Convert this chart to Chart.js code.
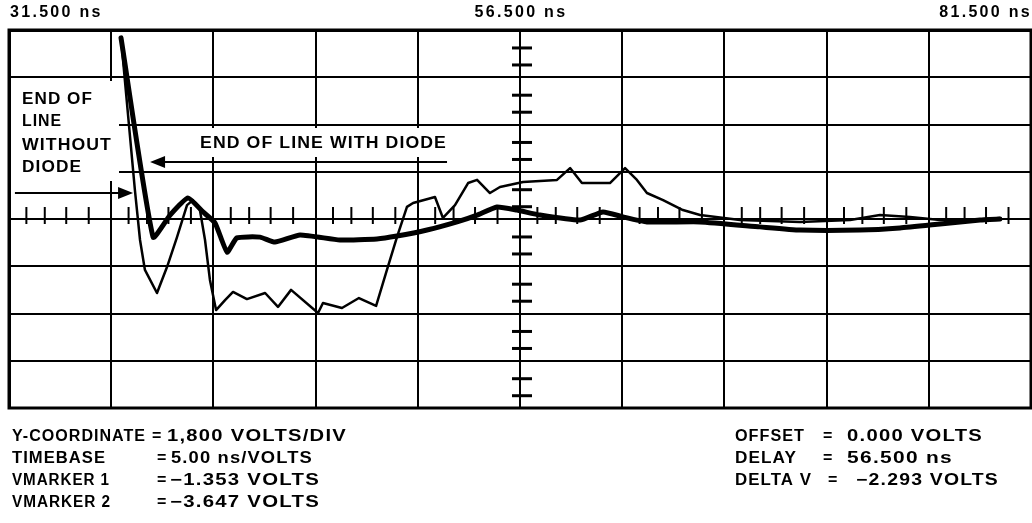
<!DOCTYPE html>
<html><head><meta charset="utf-8">
<script src="https://cdn.jsdelivr.net/npm/chart.js@4/dist/chart.umd.min.js"></script>
<style>html,body{margin:0;padding:0;background:#fff}canvas{display:block}</style>
</head><body>
<canvas id="c" width="1032" height="523"></canvas>
<script>
// ---- tick labels (time axis, ns) ----
const xTickValues = [31.5, 56.5, 81.5];
const xTickLabels = ['31.500 ns', '56.500 ns', '81.500 ns'];

// ---- trace: end of line WITH diode (heavy trace), time in ns, volts ----
const withDiodeT = [36.98, 38.55, 39.38, 40.26, 40.99, 41.58, 42.17, 42.65, 43.78, 44.51, 45.74, 47.69, 49.50, 50.48, 51.95, 53.42, 54.40, 55.37, 56.35, 57.48, 59.44, 60.56, 61.54, 62.71, 65.31, 68.24, 70.20, 73.13, 75.09, 77.05, 79.01, 79.98];
const withDiodeV = [6.90, -0.69, 0.15, 0.80, 0.27, -0.15, -1.26, -0.72, -0.69, -0.88, -0.61, -0.80, -0.76, -0.65, -0.42, -0.11, 0.15, 0.46, 0.34, 0.15, -0.04, 0.27, 0.08, -0.11, -0.11, -0.30, -0.42, -0.42, -0.34, -0.19, -0.04, 0.00];

// ---- trace: end of line WITHOUT diode (light trace) ----
const withoutDiodeT = [36.98, 37.66, 37.91, 38.15, 38.74, 39.23, 39.72, 40.21, 40.50, 40.84, 41.09, 41.33, 41.63, 42.07, 42.46, 43.14, 44.03, 44.66, 45.30, 46.62, 46.86, 47.79, 48.62, 49.46, 49.99, 50.48, 50.97, 51.27, 52.34, 52.73, 53.32, 53.96, 54.40, 55.03, 55.52, 56.65, 58.31, 58.95, 59.53, 60.90, 61.64, 62.22, 62.71, 63.50, 64.47, 65.31, 67.26, 70.20, 72.65, 74.11, 75.58, 77.05, 78.52, 79.98];
const withoutDiodeV = [6.90, 1.10, -0.80, -1.94, -2.82, -1.83, -0.69, 0.53, 0.72, 0.34, -0.80, -2.32, -3.47, -3.09, -2.78, -3.05, -2.82, -3.35, -2.70, -3.58, -3.20, -3.39, -3.01, -3.31, -1.94, -0.69, 0.46, 0.61, 0.84, 0.04, 0.53, 1.37, 1.49, 0.99, 1.22, 1.41, 1.49, 1.94, 1.37, 1.37, 1.94, 1.49, 0.99, 0.72, 0.34, 0.15, -0.04, -0.11, -0.04, 0.15, 0.08, -0.04, -0.04, 0.04];

// ---- readout text ----
const readoutLeftLabels = ['Y-COORDINATE', 'TIMEBASE', 'VMARKER 1', 'VMARKER 2'];
const readoutLeftValues = ['1,800 VOLTS/DIV', '5.00 ns/VOLTS', '\u22121.353 VOLTS', '\u22123.647 VOLTS'];
const readoutRightLabels = ['OFFSET', 'DELAY', 'DELTA V'];
const readoutRightValues = ['0.000 VOLTS', '56.500 ns', '\u22122.293 VOLTS'];
const noteWithout = ['END OF', 'LINE', 'WITHOUT', 'DIODE'];
const noteWith = 'END OF LINE WITH DIODE';

const FONT = '"Liberation Sans", Arial, Helvetica, sans-serif';

function pts(t, v) { return t.map((x, i) => ({ x: x, y: v[i] })); }

// text placed in a box of given width (horizontally stretched like the plotter font)
function fitText(ctx, s, x, y, w) {
  const m = ctx.measureText(s).width;
  ctx.save();
  ctx.translate(x, y);
  ctx.scale(w / m, 1);
  ctx.fillText(s, 0, 0);
  ctx.restore();
}

const scopePlugin = {
  id: 'scope',
  beforeDatasetsDraw(chart) {
    const ctx = chart.ctx, xs = chart.scales.x, ys = chart.scales.y, a = chart.chartArea;
    ctx.save();
    // clear areas behind the annotation texts (grid is broken there)
    ctx.fillStyle = '#fff';
    ctx.fillRect(a.left + 2, 81, 108, 100);
    ctx.fillRect(194, 128, 258, 29);
    ctx.strokeStyle = '#000';
    const y0 = ys.getPixelForValue(0);
    const x0 = xs.getPixelForValue(56.5);
    ctx.lineWidth = 2;
    const fx = [0.17, 0.35, 0.56, 0.78];
    for (let d = 0; d < 10; d++) {
      for (const f of fx) {
        const px = xs.getPixelForValue(31.5 + 5 * (d + f));
        ctx.beginPath(); ctx.moveTo(px, y0 - 12); ctx.lineTo(px, y0 + 5); ctx.stroke();
      }
    }
    ctx.lineWidth = 3;
    const fy = [0.38, 0.74];
    for (let d = 0; d < 8; d++) {
      for (const f of fy) {
        const py = ys.getPixelForValue(7.2 - 1.8 * (d + f));
        ctx.beginPath(); ctx.moveTo(x0 - 8, py); ctx.lineTo(x0 + 12, py); ctx.stroke();
      }
    }
    ctx.restore();
  },
  afterDraw(chart) {
    const ctx = chart.ctx, xs = chart.scales.x, ys = chart.scales.y, a = chart.chartArea;
    ctx.save();
    ctx.strokeStyle = '#000'; ctx.fillStyle = '#000';
    ctx.lineWidth = 3;
    ctx.strokeRect(a.left, a.top, a.right - a.left, a.bottom - a.top);
    function arrow(t1, t2, v) {
      const xa = xs.getPixelForValue(t1), xb = xs.getPixelForValue(t2), py = ys.getPixelForValue(v);
      const dir = xb > xa ? 1 : -1;
      ctx.lineWidth = 2;
      ctx.beginPath(); ctx.moveTo(xa, py); ctx.lineTo(xb - dir * 12, py); ctx.stroke();
      ctx.beginPath(); ctx.moveTo(xb, py); ctx.lineTo(xb - dir * 15, py - 6); ctx.lineTo(xb - dir * 15, py + 6); ctx.closePath(); ctx.fill();
    }
    arrow(52.93, 38.40, 2.17);
    arrow(31.79, 37.57, 0.99);

    // time-axis tick labels, positioned through the x scale
    ctx.font = 'bold 16px ' + FONT;
    ctx.letterSpacing = '2.3px';
    ctx.textBaseline = 'middle';
    xTickValues.forEach((v, i) => {
      const px = xs.getPixelForValue(v);
      ctx.textAlign = i === 0 ? 'left' : (i === xTickValues.length - 1 ? 'right' : 'center');
      ctx.fillText(xTickLabels[i], px + 1, 13);
    });

    ctx.textBaseline = 'alphabetic';
    ctx.textAlign = 'left';
    ctx.font = 'bold 16px ' + FONT;
    ctx.letterSpacing = '1px';
    const nb = [104, 126, 150, 172];
    const nw = [71, 40, 90, 60];
    noteWithout.forEach((s, i) => fitText(ctx, s, 22, nb[i], nw[i]));
    fitText(ctx, noteWith, 200, 148, 247);

    ctx.font = 'bold 16px ' + FONT;
    ctx.letterSpacing = '1px';
    const rows = [441, 463, 485, 507];
    const labW = [134, 94, 98, 99];
    const eqL = [152, 157, 157, 157];
    const valL = [167, 171, 170, 170], valW = [180, 142, 150, 150];
    readoutLeftLabels.forEach((s, i) => {
      fitText(ctx, s, 12, rows[i], labW[i]);
      ctx.fillText('=', eqL[i], rows[i]);
      fitText(ctx, readoutLeftValues[i], valL[i], rows[i], valW[i]);
    });
    const labRW = [70, 62, 77];
    const eqR = [823, 823, 828], valR = [847, 847, 856], valRW = [136, 106, 143];
    readoutRightLabels.forEach((s, i) => {
      fitText(ctx, s, 735, rows[i], labRW[i]);
      ctx.fillText('=', eqR[i], rows[i]);
      fitText(ctx, readoutRightValues[i], valR[i], rows[i], valRW[i]);
    });
    ctx.restore();
  }
};

new Chart(document.getElementById('c'), {
  type: 'line',
  data: {
    datasets: [
      { label: 'End of line without diode', data: pts(withoutDiodeT, withoutDiodeV), borderColor: '#000', borderWidth: 2.5, pointRadius: 0, tension: 0, fill: false, borderCapStyle: 'round', borderJoinStyle: 'round' },
      { label: 'End of line with diode', data: pts(withDiodeT, withDiodeV), borderColor: '#000', borderWidth: 5, pointRadius: 0, tension: 0.15, fill: false, borderCapStyle: 'round', borderJoinStyle: 'round' }
    ]
  },
  options: {
    responsive: false,
    animation: false,
    devicePixelRatio: 1,
    layout: { padding: { left: 9, right: 1, top: 30, bottom: 115 } },
    plugins: { legend: { display: false }, tooltip: { enabled: false } },
    scales: {
      x: {
        type: 'linear', position: 'top', min: 31.5, max: 81.5,
        grid: { color: '#000', lineWidth: 2, drawTicks: false },
        border: { color: '#000', width: 3 },
        ticks: { stepSize: 5, display: false }
      },
      y: {
        type: 'linear', min: -7.2, max: 7.2,
        grid: { color: '#000', lineWidth: 2, drawTicks: false },
        border: { color: '#000', width: 3 },
        ticks: { stepSize: 1.8, display: false }
      }
    }
  },
  plugins: [scopePlugin]
});
</script>
</body></html>
